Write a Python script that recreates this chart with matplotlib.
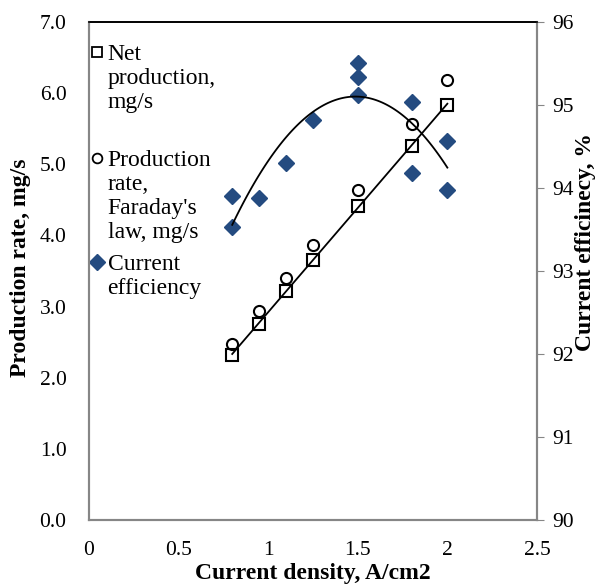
import numpy as np
import matplotlib.pyplot as plt

plt.rcParams['font.family'] = ['Liberation Serif', 'DejaVu Serif']

density = [0.8, 0.95, 1.1, 1.25, 1.5, 1.8, 2.0]
net_prod = [2.32, 2.76, 3.22, 3.66, 4.42, 5.26, 5.83]
faraday = [2.48, 2.94, 3.40, 3.87, 4.64, 5.57, 6.18]

# current efficiency has repeated runs at some densities
eff_x = [0.8, 0.8, 0.95, 1.1, 1.25, 1.5, 1.5, 1.5, 1.8, 1.8, 2.0, 2.0]
eff_y = [93.90, 93.53, 93.88, 94.30, 94.82, 95.50, 95.34, 95.12,
         95.03, 94.18, 94.57, 93.98]

labels = ['Net\nproduction,\nmg/s',
          "Production\nrate,\nFaraday's\nlaw, mg/s",
          'Current\nefficiency']

blue = '#244b80'
grey = '#868686'

fig = plt.figure(figsize=(6.0, 5.86), dpi=100)
ax = fig.add_axes([0.148, 0.1126, 0.747, 0.85])
ax2 = ax.twinx()

ax.plot(density, net_prod, 's', ms=8, mfc='none', mec='black', mew=1.5)
ax.plot(density, faraday, 'o', ms=8, mfc='none', mec='black', mew=1.5)

# linear trend of net production
k, b = np.polyfit(density, net_prod, 1)
xs = np.linspace(min(density), max(density), 50)
ax.plot(xs, k * xs + b, color='black', lw=1.3)

ax2.plot(eff_x, eff_y, 'D', ms=8, color=blue)
# 2nd order trend of efficiency
c = np.polyfit(eff_x, eff_y, 2)
xq = np.linspace(min(eff_x), max(eff_x), 100)
ax2.plot(xq, np.polyval(c, xq), color='black', lw=1.3)

ax.set_xlim(0, 2.5)
ax.set_ylim(0, 7)
ax2.set_ylim(90, 96)
ax.set_xticks([0, 0.5, 1, 1.5, 2, 2.5])
ax.set_xticklabels(['0', '0.5', '1', '1.5', '2', '2.5'])
ax.set_yticks(np.arange(0, 7.5, 1.0))
ax.set_yticklabels([f'{v:.1f}' for v in np.arange(0, 7.5, 1.0)])
ax2.set_yticks(range(90, 97))

ax.tick_params(axis='x', labelsize=15.5, length=0, pad=15)
ax.tick_params(axis='y', labelsize=15.5, length=0, pad=16)
ax2.tick_params(axis='y', labelsize=15.5, length=5, color=grey, pad=6)

for a in (ax, ax2):
    for s in ('left', 'bottom', 'right'):
        a.spines[s].set_color(grey)
        a.spines[s].set_linewidth(1.5)
    a.spines['top'].set_color('black')
    a.spines['top'].set_linewidth(1.2)

ax.set_xlabel('Current density, A/cm2', fontsize=17, fontweight='bold')
ax.set_ylabel('Production rate, mg/s', fontsize=17, fontweight='bold')
ax2.set_ylabel('Current efficinecy, %', fontsize=17, fontweight='bold')
ax.xaxis.set_label_coords(0.5, -0.086)
ax.yaxis.set_label_coords(-0.129, 0.506)
ax2.yaxis.set_label_coords(1.085, 0.558)

# legend: marker beside the first line of each entry
marks = [dict(marker='s', ms=7, mfc='none', mec='black', mew=1.3),
         dict(marker='o', ms=7, mfc='none', mec='black', mew=1.3),
         dict(marker='D', ms=8, color=blue)]
rows = [0.940, 0.727, 0.518]
for lab, m, yy in zip(labels, marks, rows):
    ax2.plot([0.018], [yy], transform=ax2.transAxes, clip_on=False, ls='none', **m)
    ax2.text(0.042, yy + 0.016, lab, transform=ax2.transAxes, fontsize=17,
             va='top', ha='left', linespacing=1.18)

fig.savefig('out.png', dpi=100)
